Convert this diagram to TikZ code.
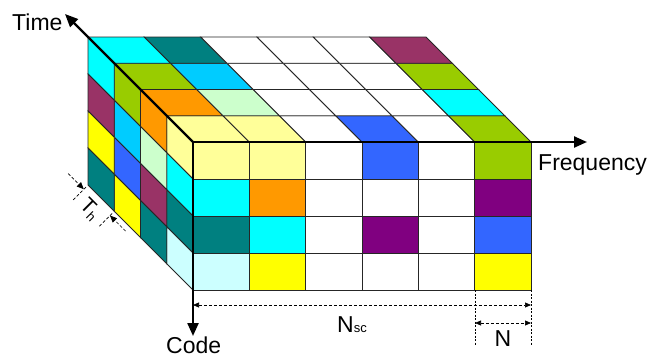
\documentclass[tikz,border=0pt]{standalone}
\usepackage{fontspec}
\setmainfont{Liberation Sans}
\usetikzlibrary{arrows.meta}
\definecolor{cLY}{HTML}{FFFF99}
\definecolor{cC}{HTML}{00FFFF}
\definecolor{cT}{HTML}{008080}
\definecolor{cLC}{HTML}{CCFFFF}
\definecolor{cY}{HTML}{FFFF00}
\definecolor{cO}{HTML}{FF9900}
\definecolor{cLG}{HTML}{CCFFCC}
\definecolor{cP}{HTML}{993366}
\definecolor{cV}{HTML}{800080}
\definecolor{cG}{HTML}{99CC00}
\definecolor{cSB}{HTML}{00CCFF}
\definecolor{cB}{HTML}{3366FF}
\newcommand{\mysub}[1]{\raisebox{-0.3ex}{\fontsize{13}{13}\selectfont #1}}
\begin{document}
\begin{tikzpicture}[x=1pt,y=-1pt,
  cell/.style={draw=black!85, line width=0.9pt, line join=miter},
  axis/.style={line width=2.3pt, -{Triangle[length=13pt,width=11pt]}},
  dim/.style={dash pattern=on 3pt off 2pt, line width=0.7pt},
  dimarr/.style={dim, {Triangle[length=6pt,width=5pt]}-{Triangle[length=6pt,width=5pt]}},
  onearr/.style={dim, -{Triangle[length=7pt,width=6pt]}},
  lbl/.style={font=\fontsize{23}{27}\selectfont, inner sep=0pt}]
\useasboundingbox (0,0) rectangle (652,356);
\def\W{56.333}\def\H{37}\def\D{26.25}
% front face
\foreach \row [count=\j from 0] in {{cLY,cLY,white,cB,white,cG},{cC,cO,white,white,white,cV},{cT,cC,white,cV,white,cB},{cLC,cY,white,white,white,cY}}{
  \foreach \c [count=\i from 0] in \row {
    \path[cell, fill=\c] ({193+\i*\W},{142+\j*\H}) rectangle ++(\W,\H);
  }
}
% top face (k=0 front layer ... k=3 back layer)
\foreach \row [count=\k from 0] in {{cLY,cLY,white,cB,white,cG},{cO,cLG,white,white,white,cC},{cG,cSB,white,white,white,cG},{cC,cT,white,white,white,cP}}{
  \foreach \c [count=\i from 0] in \row {
    \path[cell, fill=\c] ({193+\i*\W-\k*\D},{142-\k*\D}) -- ++(\W,0) -- ++(-\D,-\D) -- ++(-\W,0) -- cycle;
  }
}
% left face
\foreach \col [count=\k from 0] in {{cLY,cC,cT,cLC},{cO,cLG,cP,cT},{cG,cSB,cB,cY},{cC,cP,cY,cT}}{
  \foreach \c [count=\j from 0] in \col {
    \path[cell, fill=\c] ({193-\k*\D},{142+\j*\H-\k*\D}) -- ++(0,\H) -- ++(-\D,-\D) -- ++(0,-\H) -- cycle;
  }
}
% axes
\coordinate (O) at (193,142);
\coordinate (tTip) at (65,14);
\coordinate (fTip) at (587,142);
\coordinate (cTip) at (193,336);
\draw[axis] (O) -- (tTip);
\draw[axis] (O) -- (fTip);
\draw[axis] (O) -- (cTip);
\node[lbl, anchor=base west] (time) at (12,30) {Time};
\node[lbl, anchor=base west] (freq) at (538,170) {Frequency};
\node[lbl, anchor=base west] (code) at (166,353.5) {Code};
% N_sc and N dimensions
\coordinate (nscL) at (193,305);
\coordinate (nscR) at (531,305);
\coordinate (nL) at (475,323);
\coordinate (nR) at (531,323);
\coordinate (e1a) at (475,290);
\coordinate (e1b) at (475,346);
\coordinate (e2a) at (531,290);
\coordinate (e2b) at (531,346);
\draw[dim, dash pattern=on 2pt off 1.5pt] (e1a) -- (e1b);
\draw[dim, dash pattern=on 2pt off 1.5pt] (e2a) -- (e2b);
\draw[dimarr] (nscL) -- (nscR);
\draw[dimarr] (nL) -- (nR);
\node[lbl, anchor=base west] (nsc) at (337,332) {N{\fontsize{13}{13}\selectfont sc}};
\node[lbl, anchor=base] (nlab) at (503,346) {N};
% T_h dimension
\coordinate (t1a) at (85.9,187.1);
\coordinate (t1b) at (72.4,200.6);
\coordinate (t2a) at (112.1,213.4);
\coordinate (t2b) at (98.7,226.8);
\coordinate (a1s) at (68.2,173.6);
\coordinate (a1e) at (83.8,189.2);
\coordinate (a2s) at (125.6,231.1);
\coordinate (a2e) at (110.0,215.5);
\draw[dim] (t1a) -- (t1b);
\draw[dim] (t2a) -- (t2b);
\draw[onearr] (a1s) -- (a1e);
\draw[onearr] (a2s) -- (a2e);
\node[lbl, rotate=-45, font=\fontsize{21}{24}\selectfont] (th) at (89.8,209.4) {T\mysub{h}};
\end{tikzpicture}
\end{document}
